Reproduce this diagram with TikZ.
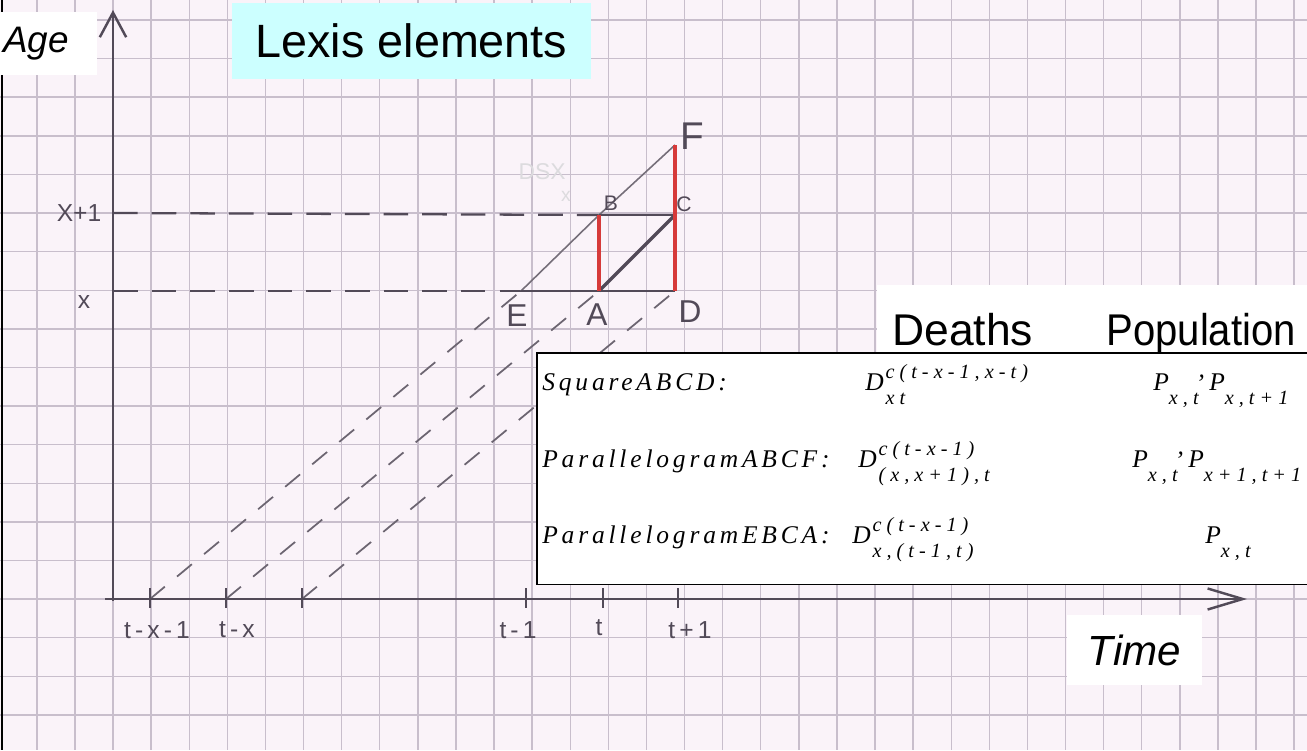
\documentclass[tikz,border=0pt]{standalone}
\usepackage{fontspec}
\setmainfont{Liberation Sans}
\newfontfamily\tabfont{Liberation Serif}[LetterSpace=15]
\newfontfamily\supfont{Liberation Serif}[LetterSpace=25]
\newfontfamily\handfont{Liberation Sans}
\usepackage{xcolor}
\usepackage{tikz}
\usetikzlibrary{arrows.meta,positioning}

\definecolor{paper}{RGB}{250,243,249}
\definecolor{gridline}{RGB}{200,190,204}
\definecolor{pencil}{RGB}{82,74,88}
\definecolor{redpen}{RGB}{214,58,58}
\definecolor{titlebg}{RGB}{204,255,255}

% scripts in the table
\newcommand{\lxscr}{\supfont\itshape\fontsize{11.5}{13}\selectfont}
\newcommand{\lxD}[2]{D\hspace{1pt}\rlap{\raisebox{6.8pt}{\lxscr #1}}\raisebox{-8.5pt}{\lxscr #2}}
\newcommand{\lxP}[1]{P\raisebox{-8.5pt}{\lxscr #1}}
\newcommand{\lxcomma}{\raisebox{7pt}{,}}

\begin{document}
\begin{tikzpicture}[
  x=0.02cm, y=-0.02cm,
  every node/.style={inner sep=0pt},
  gridln/.style={draw=gridline, line width=0.8pt},
  frameln/.style={draw=black, line width=1.5pt},
  axis/.style={draw=pencil, line width=1.4pt},
  tickln/.style={draw=pencil, line width=1.2pt},
  guide/.style={draw=pencil, line width=1.3pt, dash pattern=on 14pt off 8pt},
  cohort/.style={draw=pencil!85, line width=1pt, dash pattern=on 11pt off 9pt},
  sideln/.style={draw=pencil, line width=1.7pt},
  diagln/.style={draw=pencil!80, line width=0.9pt},
  redside/.style={draw=redpen, line width=2.4pt},
  hand/.style={text=pencil, font=\handfont\fontsize{14}{16}\selectfont},
  pointlbl/.style={text=pencil, font=\handfont\fontsize{18}{20}\selectfont},
  whitebox/.style={fill=white, anchor=north west},
  heading/.style={font=\fontsize{25.3}{30}\selectfont},
  rowtext/.style={font=\tabfont\itshape\fontsize{14.5}{17}\selectfont, anchor=base west},
]
\useasboundingbox (0,0) rectangle (1307,750);

% Paper and grid
\fill[paper] (0,0) rectangle (1307,750);
\foreach \k in {-2,...,31}
  \draw[gridln] ({113+38.1*\k},0) -- ({113+38.1*\k},750);
\foreach \k in {-3,...,15}
  \draw[gridln] (0,{599-38.6*\k}) -- (1307,{599-38.6*\k});

\coordinate (frametop) at (2,0);
\coordinate (framebot) at (2,750);
\draw[frameln] (frametop) -- (framebot);

% Axes and ticks
\coordinate (O) at (113,601);
\coordinate (ytop) at (113,10);
\coordinate (xstart) at (105,599);
\coordinate (xend) at (1247,599);
\coordinate (tk1) at (150,599);
\coordinate (tk2) at (226,599);
\coordinate (tk3) at (302,599);
\coordinate (tm1) at (526,599);
\coordinate (tt) at (603,599);
\coordinate (tp1) at (678,599);

% Lexis points
\coordinate (E) at (521,291);
\coordinate (A) at (599,291);
\coordinate (D) at (675,291);
\coordinate (B) at (599,215);
\coordinate (C) at (675,215);
\coordinate (F) at (675,145);
\coordinate (xl) at (113,291);
\coordinate (xpl) at (113,213);

\draw[guide] (xpl) -- (B);
\draw[guide] (xl) -- (E);
\draw[cohort] (tk1) -- (E);
\draw[cohort] (tk2) -- (A);
\draw[cohort] (tk3) -- (D);

\draw[axis, -{Straight Barb[length=14pt,width=15pt]}] (O) -- (ytop);
\draw[axis, -{Straight Barb[length=20pt,width=12pt]}] (xstart) -- (xend);
\foreach \p in {tk1,tk2,tk3,tm1,tt,tp1}
  \draw[tickln] ([yshift=6pt]\p) -- ([yshift=-5pt]\p);

% Square and parallelograms
\draw[diagln] (E) -- (B) -- (F);
\draw[sideln] (E) -- (A) -- (D);
\draw[sideln] (B) -- (C);
\draw[sideln, line width=2pt] (A) -- (C);
\draw[redside] (A) -- (B);
\draw[redside] (D) -- (C) -- (F);

% Handwritten labels
\node[pointlbl, font=\handfont\fontsize{22}{24}\selectfont] (Flbl) at (692,136) {F};
\node[pointlbl, font=\handfont\fontsize{12}{14}\selectfont] (Blbl) at (611,203) {B};
\node[pointlbl, font=\handfont\fontsize{12}{14}\selectfont] (Clbl) at (684,204) {C};
\node[pointlbl] (Elbl) at (517,316) {E};
\node[pointlbl] (Albl) at (597,315) {A};
\node[pointlbl] (Dlbl) at (690,312) {D};
\node[text=pencil!20, font=\handfont\fontsize{13}{15}\selectfont] (ghost) at (542,172) {DSX};
\node[text=pencil!20, font=\handfont\fontsize{11}{13}\selectfont] (ghostx) at (566,196) {x};

\node[hand] (xp1lbl) at (79,213) {X+1};
\node[hand] (xlbl) at (84,302) {x};
\node[hand] (tk1lbl) at (157,630) {t\,-\,x\,-\,1};
\node[hand] (tk2lbl) at (237,630) {t\,-\,x};
\node[hand] (tm1lbl) at (518,630) {t\,-\,1};
\node[hand] (ttlbl) at (599,628) {t};
\node[hand] (tp1lbl) at (690,630) {t\,+\,1};

% Boxes
\node[whitebox, minimum width=1.94cm, minimum height=1.26cm, text width=1.82cm,
      align=left, inner xsep=0.06cm, font=\itshape\fontsize{21}{24}\selectfont] (age) at (0,12) {Age};
\node[fill=titlebg, minimum width=7.18cm, minimum height=1.52cm,
      font=\fontsize{26.6}{30}\selectfont] (title) at (411.5,41) {Lexis elements};
\node[fill=white, minimum width=2.7cm, minimum height=1.4cm,
      font=\itshape\fontsize{24}{28}\selectfont] (time) at (1134.5,650) {Time};

\node[whitebox, minimum width=8.66cm, minimum height=1.34cm] (headbg) at (877,285) {};
\node[heading, anchor=base west] (deaths) at (892,345) {Deaths};
\node[heading, anchor=base east] (popul) at (1296,345) {\scalebox{0.9}[1]{Population}};

\node[whitebox, minimum width=15.46cm, minimum height=4.62cm] (tbl) at (537,353) {};
\draw[line width=0.9pt] (tbl.north east) -| (tbl.south west) -- (tbl.south east);

% Table rows
\node[rowtext] (sqlbl) at (542,390) {SquareABCD:};
\node[rowtext] (sqD) at (865,390) {\lxD{c(t-x-1,x-t)}{xt}};
\node[rowtext] (sqP) at (1153,390) {\lxP{x,t}\lxcomma\,\lxP{x,t+1}};

\node[rowtext] (abcflbl) at (542,467) {ParallelogramABCF:};
\node[rowtext] (abcfD) at (858,467) {\lxD{c(t-x-1)}{(x,x+1),t}};
\node[rowtext] (abcfP) at (1132,467) {\lxP{x,t}\lxcomma\,\lxP{x+1,t+1}};

\node[rowtext] (ebcaLbl) at (542,543) {ParallelogramEBCA:};
\node[rowtext] (ebcaD) at (852,543) {\lxD{c(t-x-1)}{x,(t-1,t)}};
\node[rowtext] (ebcaP) at (1205,543) {\lxP{x,t}};

\end{tikzpicture}
\end{document}
